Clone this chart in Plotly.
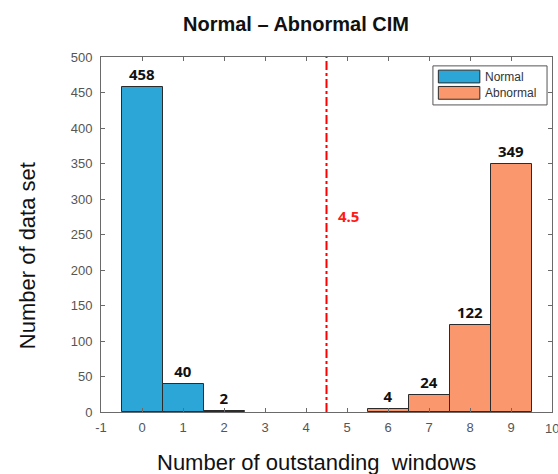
import plotly.graph_objects as go

# Histogram counts per number of outstanding windows
normal_x = [0, 1, 2]
normal_counts = [458, 40, 2]
abnormal_x = [6, 7, 8, 9]
abnormal_counts = [4, 24, 122, 349]
series_names = ["Normal", "Abnormal"]
x_tick_values = [-1, 0, 1, 2, 3, 4, 5, 6, 7, 8, 9, 10]
x_tick_labels = ["-1", "0", "1", "2", "3", "4", "5", "6", "7", "8", "9", "10"]
threshold = 4.5
threshold_label = "4.5"
title_text = "Normal \u2013 Abnormal CIM"
x_title = "Number of outstanding  windows"
y_title = "Number of data set"

BLUE = "#2ba6d6"
ORANGE = "#fa976d"
EDGE = "#2b2b2b"
AXIS = "#6a6a6a"
TICKFONT = dict(family="Arial, Liberation Sans", size=13, color="#555555")
LABELFONT = dict(family="Noto Sans", size=15, color="#111111", weight="bold")

fig = go.Figure()
for xs, ys, color, name in [
    (normal_x, normal_counts, BLUE, series_names[0]),
    (abnormal_x, abnormal_counts, ORANGE, series_names[1]),
]:
    fig.add_trace(go.Bar(
        x=xs, y=ys, name=name, width=1,
        marker=dict(color=color, line=dict(color=EDGE, width=1)),
        text=[str(v) for v in ys], textposition="outside",
        textfont=LABELFONT, cliponaxis=False, showlegend=False,
    ))

# threshold line
fig.add_shape(type="line", xref="x", yref="y", x0=threshold, x1=threshold,
              y0=0, y1=500, line=dict(color="#ff0000", width=2, dash="dashdot"))
fig.add_annotation(x=threshold + 0.53, y=276, xref="x", yref="y", text=threshold_label,
                   showarrow=False,
                   font=dict(family="Noto Sans", size=15, color="#ff1a1a", weight="bold"))

# legend box with wide swatches
fig.add_shape(type="rect", xref="paper", yref="paper", x0=0.736, x1=0.989,
              y0=0.865, y1=0.975, line=dict(color="#555555", width=1),
              fillcolor="white")
for i, (name, color) in enumerate(zip(series_names, [BLUE, ORANGE])):
    yc = 0.945 - i * 0.046
    fig.add_shape(type="rect", xref="paper", yref="paper", x0=0.748, x1=0.840,
                  y0=yc - 0.018, y1=yc + 0.018, line=dict(color=EDGE, width=1),
                  fillcolor=color)
    fig.add_annotation(x=0.846, y=yc, xref="paper", yref="paper", text=name,
                       showarrow=False, xanchor="left", yanchor="middle",
                       font=dict(family="Arial, Liberation Sans", size=12, color="#333333"))

# last x tick label sits on the canvas edge, so it is placed by hand
fig.add_annotation(x=x_tick_values[-1], y=0, xref="x", yref="y", yshift=-16,
                   text=x_tick_labels[-1], showarrow=False, xanchor="center",
                   yanchor="middle", font=TICKFONT)

# titles
fig.add_annotation(x=0.432, y=1.094, xref="paper", yref="paper", text=title_text,
                   showarrow=False, xanchor="center", yanchor="middle",
                   font=dict(family="Arial, Liberation Sans", size=20, color="#111111",
                             weight="bold"))
fig.add_annotation(x=0.477, y=-0.141, xref="paper", yref="paper", text=x_title,
                   showarrow=False, xanchor="center", yanchor="middle",
                   font=dict(family="Arial, Liberation Sans", size=22, color="#111111"))
fig.add_annotation(x=-0.164, y=0.439, xref="paper", yref="paper", text=y_title,
                   showarrow=False, xanchor="center", yanchor="middle", textangle=-90,
                   font=dict(family="Arial, Liberation Sans", size=22, color="#111111"))

fig.update_layout(
    width=558, height=474,
    margin=dict(l=101, r=6, t=57, b=62),
    paper_bgcolor="white", plot_bgcolor="white",
    barmode="overlay", bargap=0,
    xaxis=dict(range=[-1, 10], tickmode="array", tickvals=x_tick_values,
               ticktext=x_tick_labels,
               showline=True, linecolor=AXIS, linewidth=1, mirror="ticks",
               ticks="inside", ticklen=4, tickcolor=AXIS, showgrid=False,
               zeroline=False, tickfont=TICKFONT, ticklabelstandoff=3),
    yaxis=dict(range=[0, 500], tickmode="linear", tick0=0, dtick=50,
               showline=True, linecolor=AXIS, linewidth=1, mirror="ticks",
               ticks="inside", ticklen=4, tickcolor=AXIS, showgrid=False,
               zeroline=False, tickfont=TICKFONT, ticklabelstandoff=5),
)

fig.write_html("out.html")
